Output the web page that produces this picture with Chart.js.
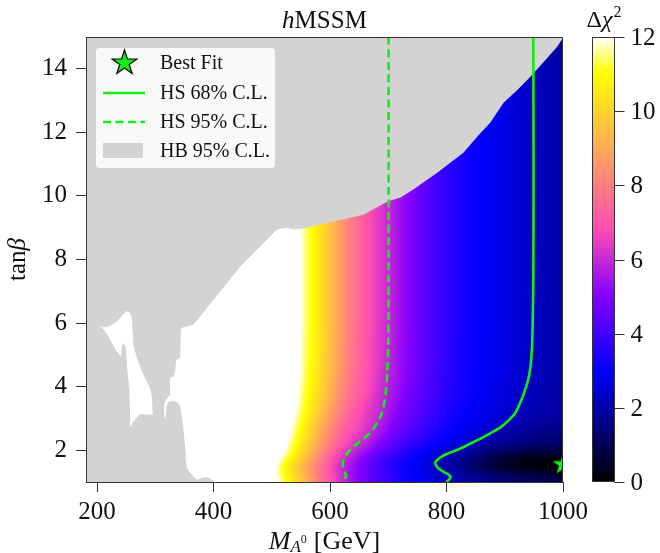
<!DOCTYPE html>
<html>
<head>
<meta charset="utf-8">
<script src="https://cdn.jsdelivr.net/npm/chart.js@4.4.1/dist/chart.umd.min.js"></script>
<style>
  html, body { margin: 0; padding: 0; background: #ffffff; }
  canvas { display: block; }
</style>
</head>
<body>
<canvas id="chart" width="660" height="553"></canvas>
<script>
// ---------- axes ----------
const xMin = 181, xMax = 1000;
const yMin = 1, yMax = 15;
const xTicks = [200, 400, 600, 800, 1000];
const xTickLabels = ['200', '400', '600', '800', '1000'];
const yTicks = [2, 4, 6, 8, 10, 12, 14];
const yTickLabels = ['2', '4', '6', '8', '10', '12', '14'];
const cbarMin = 0, cbarMax = 12;
const cbarTicks = [0, 2, 4, 6, 8, 10, 12];
const cbarTickLabels = ['0', '2', '4', '6', '8', '10', '12'];

// ---------- Δχ² grid (HiggsSignals): columns in M_A0, rows at tanβ nodes ----------
const massGrid = [500, 520, 540, 560, 580, 600, 620, 640, 660, 680, 700, 720, 740,
                  760, 780, 800, 820, 840, 860, 880, 900, 920, 940, 960, 980, 1000];
const tanbNodes = [1.1, 1.3, 1.5, 1.7, 1.9, 2.12, 2.37, 2.62, 2.87, 3.25, 3.75, 4.5, 6.0];
const chi2_t110 = [12.5, 11.3, 10.2, 9.2, 8.0, 7.0, 6.1, 5.3, 4.7, 4.2, 3.8, 3.4, 3.1, 2.85, 2.55, 2.3, 2.05, 1.85, 1.65, 1.5, 1.35, 1.25, 1.15, 1.05, 1.0, 0.95];
const chi2_t130 = [12.3, 11.1, 10.0, 9.0, 7.9, 6.9, 6.05, 5.3, 4.7, 4.2, 3.75, 3.35, 3.0, 2.75, 2.5, 2.2, 1.9, 1.6, 1.35, 1.1, 0.9, 0.7, 0.55, 0.45, 0.4, 0.35];
const chi2_t150 = [12.4, 11.1, 10.0, 9.0, 7.9, 6.9, 6.0, 5.3, 4.7, 4.15, 3.7, 3.3, 2.95, 2.65, 2.35, 2.0, 1.65, 1.3, 1.0, 0.7, 0.45, 0.3, 0.2, 0.1, 0.05, 0.0];
const chi2_t170 = [12.8, 11.5, 10.4, 9.3, 8.2, 7.1, 6.2, 5.5, 4.85, 4.3, 3.8, 3.4, 3.05, 2.75, 2.4, 2.1, 1.8, 1.45, 1.1, 0.8, 0.5, 0.35, 0.25, 0.2, 0.15, 0.15];
const chi2_t190 = [13.2, 11.9, 10.8, 9.6, 8.5, 7.4, 6.5, 5.9, 5.2, 4.6, 4.1, 3.65, 3.3, 3.0, 2.65, 2.3, 2.0, 1.75, 1.45, 1.2, 0.95, 0.8, 0.7, 0.62, 0.58, 0.55];
const chi2_t212 = [13.5, 12.2, 11.0, 9.9, 8.8, 7.8, 6.9, 6.25, 5.7, 5.05, 4.5, 4.0, 3.6, 3.3, 3.0, 2.7, 2.42, 2.15, 1.9, 1.7, 1.5, 1.35, 1.25, 1.2, 1.15, 1.1];
const chi2_t237 = [13.8, 12.5, 11.3, 10.2, 9.1, 8.1, 7.2, 6.55, 6.05, 5.4, 4.85, 4.35, 3.95, 3.6, 3.3, 3.0, 2.75, 2.5, 2.27, 2.05, 1.85, 1.7, 1.6, 1.5, 1.45, 1.4];
const chi2_t262 = [14.0, 12.7, 11.5, 10.4, 9.3, 8.3, 7.4, 6.8, 6.3, 5.7, 5.1, 4.6, 4.2, 3.85, 3.5, 3.2, 2.95, 2.7, 2.5, 2.3, 2.1, 1.95, 1.8, 1.7, 1.6, 1.55];
const chi2_t287 = [14.0, 12.9, 11.7, 10.6, 9.5, 8.5, 7.6, 7.0, 6.45, 5.9, 5.3, 4.8, 4.35, 4.0, 3.65, 3.35, 3.1, 2.85, 2.65, 2.45, 2.32, 2.15, 2.0, 1.9, 1.8, 1.75];
const chi2_t325 = [14.0, 13.1, 12.0, 10.9, 9.9, 8.9, 7.9, 7.2, 6.6, 6.1, 5.5, 5.0, 4.55, 4.15, 3.8, 3.5, 3.25, 3.0, 2.8, 2.62, 2.45, 2.3, 2.15, 2.05, 1.95, 1.9];
const chi2_t375 = [14.0, 13.3, 12.2, 11.1, 10.2, 9.2, 8.2, 7.5, 6.85, 6.25, 5.7, 5.2, 4.7, 4.3, 3.95, 3.6, 3.35, 3.1, 2.9, 2.72, 2.58, 2.43, 2.28, 2.15, 2.0, 1.9];
const chi2_t450 = [14.0, 13.5, 12.4, 11.3, 10.4, 9.5, 8.5, 7.7, 7.0, 6.45, 5.9, 5.35, 4.85, 4.4, 4.0, 3.7, 3.4, 3.2, 3.0, 2.82, 2.67, 2.52, 2.36, 2.2, 2.05, 1.9];
const chi2_t600 = [14.0, 13.6, 12.5, 11.4, 10.5, 9.6, 8.6, 7.8, 7.1, 6.5, 6.0, 5.4, 4.9, 4.45, 4.05, 3.7, 3.42, 3.2, 3.0, 2.85, 2.7, 2.55, 2.38, 2.22, 2.06, 1.9];
const chi2Rows = [chi2_t110, chi2_t130, chi2_t150, chi2_t170, chi2_t190, chi2_t212, chi2_t237,
                  chi2_t262, chi2_t287, chi2_t325, chi2_t375, chi2_t450, chi2_t600];

// ---------- HiggsSignals contours ----------
const cl68M = [949, 949.5, 949, 947, 944, 940, 934, 929, 918, 906, 895, 878, 861, 840, 821, 800, 790, 782, 781, 786, 795, 803, 807, 805, 801, 800];
const cl68T = [15.0, 11.0, 7.4, 5.3, 4.6, 4.2, 3.85, 3.6, 3.17, 2.93, 2.75, 2.56, 2.39, 2.2, 2.03, 1.88, 1.78, 1.66, 1.57, 1.43, 1.32, 1.24, 1.16, 1.09, 1.02, 1.0];
const cl95M = [700.5, 700.5, 700, 698, 695, 689, 680.5, 669, 652, 635, 626, 622, 623, 627.5, 625, 622, 621];
const cl95T = [15.0, 7.4, 5.3, 4.4, 3.7, 3.17, 2.86, 2.54, 2.28, 2.02, 1.81, 1.6, 1.39, 1.2, 1.1, 1.02, 1.0];

// ---------- best fit point ----------
const bestFitM = [1000];
const bestFitT = [1.55];

// ---------- HiggsBounds 95% C.L. excluded region ----------
const hbM = [181, 1000, 1000, 990, 966, 944, 922, 898, 875, 853, 829, 784, 743, 721, 700, 657, 600, 552, 537, 526, 509,
             446, 365.4, 359.8, 345.5, 343.8, 342.6, 335.7, 334.0, 331.1, 325.4, 325.4, 318.5, 315.1, 315.5, 317.5,
             319.5, 322, 328.3, 338.0, 342.6, 347.1, 351.2, 354.1, 359.8, 371.3, 382.6, 390.7, 397.6, 399.8, 181];
const hbT = [15, 15, 14.98, 14.69, 14.2, 13.75, 13.34, 12.93, 12.3, 11.87, 11.36, 10.73, 10.2, 9.95, 9.83, 9.41, 9.17, 8.97, 8.94, 9.0, 8.94,
             7.78, 5.95, 5.92, 5.85, 5.79, 4.90, 4.83, 4.48, 4.32, 4.27, 3.75, 3.59, 3.45, 3.05, 3.0,
             3.4, 3.5, 3.56, 3.52, 3.38, 2.91, 2.07, 1.44, 1.28, 1.07, 1.14, 1.14, 1.06, 1.0, 1.0];
// allowed pocket inside the excluded region
const pocketM = [249.8, 255.5, 259.6, 262.4, 268.2, 279.5, 291.1, 294.0, 295.7, 288.1, 273.9, 262.4, 257.9, 256.7, 255.5,
                 252.1, 249.8, 245.2, 242.4, 241.2, 233.8, 225.3, 219.4, 213.7, 208.1, 205.2, 210.8, 222.3, 233.8, 245.2];
const pocketT = [6.37, 6.35, 6.16, 5.32, 4.90, 4.38, 3.96, 3.69, 3.12, 3.12, 3.14, 2.91, 2.75, 3.22, 3.96,
                 4.48, 5.22, 5.37, 5.27, 4.95, 5.11, 5.37, 5.58, 5.74, 5.85, 5.90, 5.87, 5.90, 6.05, 6.27];

// ---------- styling ----------
const SERIF = '"Liberation Serif", "Times New Roman", serif';
const GREEN = '#11ee11';
const GRAY = '#d3d3d3';
const INK = '#111111';
const FRAME = '#333333';

function pts(xs, ys) { return xs.map((x, i) => ({ x: x, y: ys[i] })); }

// matplotlib "gnuplot2" colour map, returns [r, g, b] in 0..255
function gnuplot2(s) {
  const cl = v => Math.min(1, Math.max(0, v));
  s = cl(s);
  const r = cl(s / 0.32 - 0.78125);
  const g = cl(2 * s - 0.84);
  let b;
  if (s < 0.25) b = 4 * s; else if (s < 0.92) b = -2 * s + 1.84; else b = s / 0.08 - 11.5;
  b = cl(b);
  return [Math.round(r * 255), Math.round(g * 255), Math.round(b * 255)];
}
function cssColor(c) { return 'rgb(' + c[0] + ',' + c[1] + ',' + c[2] + ')'; }

// locate a value in a sorted node list -> [index, fraction]
function bracket(nodes, v) {
  if (v <= nodes[0]) return [0, 0];
  if (v >= nodes[nodes.length - 1]) return [nodes.length - 2, 1];
  let k = 0;
  while (k < nodes.length - 2 && v >= nodes[k + 1]) k++;
  return [k, (v - nodes[k]) / (nodes[k + 1] - nodes[k])];
}

function starPath(g, cx, cy, R) {
  const r = R * 0.381966;
  g.beginPath();
  for (let i = 0; i < 10; i++) {
    const a = -Math.PI / 2 + i * Math.PI / 5;
    const rr = (i % 2) ? r : R;
    g.lineTo(cx + rr * Math.cos(a), cy + rr * Math.sin(a));
  }
  g.closePath();
}
function drawStar(g, cx, cy, R) {
  starPath(g, cx, cy, R);
  g.fillStyle = GREEN; g.fill();
  g.lineWidth = 1.2; g.strokeStyle = '#000'; g.stroke();
}
const STAR_R = 13;
const starImg = (function () {
  const c = document.createElement('canvas');
  c.width = c.height = 32;
  drawStar(c.getContext('2d'), 16, 16, STAR_R);
  return c;
})();

// text made of runs with different fonts / offsets
function drawRuns(ctx, runs, x, y, align) {
  let total = 0;
  runs.forEach(r => { ctx.font = r.font; r.w = ctx.measureText(r.text).width + (r.gap || 0); total += r.w; });
  let cx = align === 'center' ? x - total / 2 : x;
  ctx.textAlign = 'left';
  ctx.textBaseline = 'alphabetic';
  runs.forEach(r => { ctx.font = r.font; ctx.fillText(r.text, cx, y + (r.dy || 0)); cx += r.w; });
}

// ---------- plugins ----------
const heatmapPlugin = {
  id: 'chi2Heatmap',
  beforeDatasetsDraw(chart) {
    const { ctx, chartArea: a } = chart;
    const xs = chart.scales.x, ys = chart.scales.y;
    const px0 = Math.floor(xs.getPixelForValue(massGrid[0]));
    const px1 = Math.ceil(xs.getPixelForValue(massGrid[massGrid.length - 1]));
    const py0 = Math.round(a.top), py1 = Math.round(a.bottom);
    const w = px1 - px0, h = py1 - py0;
    const off = document.createElement('canvas');
    off.width = w; off.height = h;
    const octx = off.getContext('2d');
    const img = octx.createImageData(w, h);
    const colX = [];
    for (let i = 0; i < w; i++) colX.push(bracket(massGrid, xs.getValueForPixel(px0 + i + 0.5)));
    for (let j = 0; j < h; j++) {
      const [r, fr] = bracket(tanbNodes, ys.getValueForPixel(py0 + j + 0.5));
      const lo = chi2Rows[r], hi = chi2Rows[r + 1];
      for (let i = 0; i < w; i++) {
        const [k, fk] = colX[i];
        const vLo = lo[k] + fk * (lo[k + 1] - lo[k]);
        const vHi = hi[k] + fk * (hi[k + 1] - hi[k]);
        const v = vLo + fr * (vHi - vLo);
        const c = gnuplot2((v - cbarMin) / (cbarMax - cbarMin));
        const p = (j * w + i) * 4;
        img.data[p] = c[0]; img.data[p + 1] = c[1]; img.data[p + 2] = c[2]; img.data[p + 3] = 255;
      }
    }
    octx.putImageData(img, 0, 0);
    ctx.save();
    ctx.beginPath(); ctx.rect(a.left, a.top, a.right - a.left, a.bottom - a.top); ctx.clip();
    ctx.drawImage(off, px0, py0);
    ctx.restore();
  }
};

const framePlugin = {
  id: 'frame',
  afterDatasetsDraw(chart) {
    const { ctx, chartArea: a } = chart;
    ctx.save();
    ctx.strokeStyle = FRAME; ctx.lineWidth = 1;
    ctx.strokeRect(a.left + 0.5, a.top + 0.5, a.right - a.left - 1, a.bottom - a.top);
    ctx.restore();
  }
};

const colorbarPlugin = {
  id: 'colorbar',
  afterDraw(chart) {
    const { ctx } = chart;
    const cs = chart.scales.cbar;
    const left = 592.5, right = 614.5;
    const top = Math.round(cs.getPixelForValue(cbarMax));
    const bottom = Math.round(cs.getPixelForValue(cbarMin));
    ctx.save();
    for (let py = top; py < bottom; py++) {
      const v = cs.getValueForPixel(py + 0.5);
      ctx.fillStyle = cssColor(gnuplot2((v - cbarMin) / (cbarMax - cbarMin)));
      ctx.fillRect(left, py, right - left, 1);
    }
    ctx.strokeStyle = FRAME; ctx.lineWidth = 1;
    ctx.strokeRect(left, top + 0.5, right - left, bottom - top - 1);
    ctx.fillStyle = INK;
    ctx.font = '25px ' + SERIF;
    ctx.textAlign = 'left'; ctx.textBaseline = 'middle';
    cbarTicks.forEach((t, i) => {
      const py = Math.round(cs.getPixelForValue(t)) + 0.5;
      ctx.beginPath(); ctx.moveTo(right, py); ctx.lineTo(right + 10, py); ctx.stroke();
      ctx.fillText(cbarTickLabels[i], right + 16, py + 1);
    });
    // colour bar title
    drawRuns(ctx, [
      { text: 'Δ', font: '24px ' + SERIF },
      { text: 'χ', font: 'italic 24px ' + SERIF, gap: 1 },
      { text: '2', font: '16px ' + SERIF, dy: -10 }
    ], 604, 27, 'center');
    ctx.restore();
  }
};

const titlesPlugin = {
  id: 'titles',
  afterDraw(chart) {
    const { ctx, chartArea: a } = chart;
    const cx = (a.left + a.right) / 2;
    ctx.save();
    ctx.fillStyle = INK;
    drawRuns(ctx, [
      { text: 'h', font: 'italic 25px ' + SERIF },
      { text: 'MSSM', font: '25px ' + SERIF }
    ], cx, 28, 'center');
    drawRuns(ctx, [
      { text: 'M', font: 'italic 26px ' + SERIF },
      { text: 'A', font: 'italic 17px ' + SERIF, dy: 3 },
      { text: '0', font: '12px ' + SERIF, dy: -6, gap: 7 },
      { text: '[GeV]', font: '26px ' + SERIF }
    ], cx, 549, 'center');
    ctx.translate(25, (a.top + a.bottom) / 2);
    ctx.rotate(-Math.PI / 2);
    drawRuns(ctx, [
      { text: 'tan', font: '25px ' + SERIF },
      { text: 'β', font: 'italic 25px ' + SERIF }
    ], 0, 0, 'center');
    ctx.restore();
  }
};

const legendPlugin = {
  id: 'boxLegend',
  afterDraw(chart) {
    const { ctx } = chart;
    const box = { x: 96, y: 48, w: 179, h: 120 };
    ctx.save();
    ctx.fillStyle = 'rgba(255,255,255,0.85)';
    ctx.beginPath();
    if (ctx.roundRect) ctx.roundRect(box.x, box.y, box.w, box.h, 4); else ctx.rect(box.x, box.y, box.w, box.h);
    ctx.fill();
    const rows = [63, 93, 122, 150.5];
    const items = chart.data.datasets.filter(d => d.legendKind);
    items.sort((p, q) => p.legendPos - q.legendPos);
    items.forEach((d, i) => {
      const cy = rows[i];
      if (d.legendKind === 'star') {
        drawStar(ctx, 124.5, cy, STAR_R);
      } else if (d.legendKind === 'patch') {
        ctx.fillStyle = d.backgroundColor;
        ctx.fillRect(103, cy - 7.5, 40, 15);
      } else {
        ctx.strokeStyle = d.borderColor; ctx.lineWidth = d.borderWidth;
        ctx.setLineDash(d.borderDash || []);
        ctx.beginPath(); ctx.moveTo(103, cy); ctx.lineTo(145, cy); ctx.stroke();
        ctx.setLineDash([]);
      }
      ctx.fillStyle = INK;
      ctx.font = '20px ' + SERIF;
      ctx.textAlign = 'left'; ctx.textBaseline = 'middle';
      ctx.fillText(d.label, 160, cy + 1);
    });
    ctx.restore();
  }
};

// ---------- chart ----------
const axisFont = { family: SERIF, size: 25 };
new Chart(document.getElementById('chart'), {
  type: 'scatter',
  data: {
    datasets: [
      { label: 'Best Fit', data: pts(bestFitM, bestFitT), pointStyle: starImg, pointRadius: STAR_R,
        clip: 0, order: 1, legendKind: 'star', legendPos: 0 },
      { label: 'HS 68% C.L.', data: pts(cl68M, cl68T), showLine: true, borderColor: GREEN, borderWidth: 2.6,
        pointRadius: 0, tension: 0.3, clip: 0, order: 2, legendKind: 'line', legendPos: 1 },
      { label: 'HS 95% C.L.', data: pts(cl95M, cl95T), showLine: true, borderColor: GREEN, borderWidth: 2.6,
        borderDash: [8, 4.5], pointRadius: 0, tension: 0.3, clip: 0, order: 3, legendKind: 'dash', legendPos: 2 },
      { label: 'HB allowed pocket', data: pts(pocketM, pocketT), showLine: true, fill: 'shape',
        backgroundColor: '#ffffff', borderColor: 'rgba(0,0,0,0)', borderWidth: 0, pointRadius: 0, tension: 0,
        clip: 0, order: 4 },
      { label: 'HB 95% C.L.', data: pts(hbM, hbT), showLine: true, fill: 'shape',
        backgroundColor: GRAY, borderColor: 'rgba(0,0,0,0)', borderWidth: 0, pointRadius: 0, tension: 0,
        clip: 0, order: 5, legendKind: 'patch', legendPos: 3 }
    ]
  },
  options: {
    responsive: false,
    animation: false,
    events: [],
    layout: { padding: { top: 37, right: 97, bottom: 0, left: 0 } },
    scales: {
      x: {
        type: 'linear', min: xMin, max: xMax,
        afterBuildTicks: s => { s.ticks = xTicks.map(v => ({ value: v })); },
        afterFit: s => { s.height = 71; },
        grid: { drawOnChartArea: false, drawTicks: true, tickLength: 10, color: FRAME, lineWidth: 1 },
        border: { display: false },
        ticks: { font: axisFont, color: INK, padding: 5, maxRotation: 0, autoSkip: false,
                 callback: (v, i) => xTickLabels[i] }
      },
      y: {
        type: 'linear', min: yMin, max: yMax,
        afterBuildTicks: s => { s.ticks = yTicks.map(v => ({ value: v })); },
        afterFit: s => { s.width = 86; },
        grid: { drawOnChartArea: false, drawTicks: true, tickLength: 10, color: FRAME, lineWidth: 1 },
        border: { display: false },
        ticks: { font: axisFont, color: INK, padding: 9, autoSkip: false,
                 callback: (v, i) => yTickLabels[i] }
      },
      cbar: { type: 'linear', position: 'right', display: false, min: cbarMin, max: cbarMax }
    },
    plugins: { legend: { display: false }, tooltip: { enabled: false }, title: { display: false } }
  },
  plugins: [heatmapPlugin, framePlugin, colorbarPlugin, titlesPlugin, legendPlugin]
});
</script>
</body>
</html>
